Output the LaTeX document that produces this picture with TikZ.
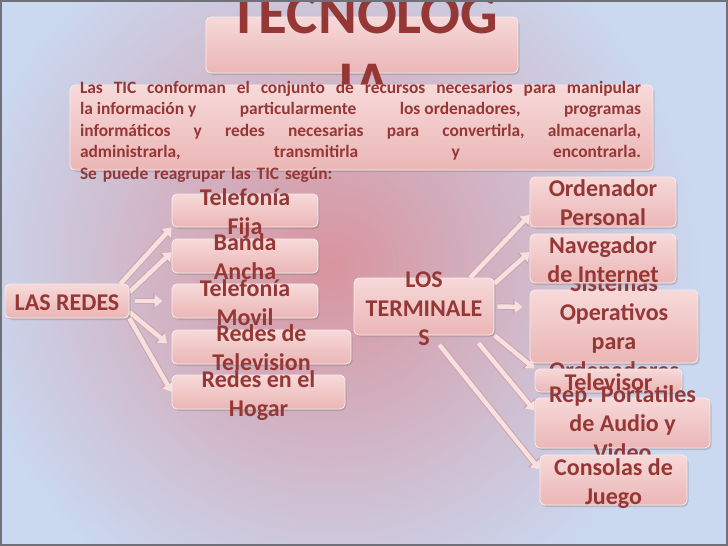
\documentclass[tikz,border=0pt]{standalone}
\usepackage{fontspec}
\setmainfont{Carlito}
\usetikzlibrary{arrows.meta,shadows}

\definecolor{txtred}{HTML}{953735}
\definecolor{boxtop}{HTML}{F7D9D9}
\definecolor{boxbot}{HTML}{EBB6B6}
\definecolor{boxline}{HTML}{FBECEC}
\definecolor{bgblue}{HTML}{CAD8F0}
\definecolor{bgred}{HTML}{D8949E}
\definecolor{arrfill}{HTML}{F6E0E0}
\definecolor{arredge}{HTML}{CFA3AA}
\definecolor{framegray}{HTML}{6E7278}

\pgfdeclarelayer{bg}
\pgfdeclarelayer{arr}
\pgfsetlayers{bg,arr,main}

\begin{document}
\begin{tikzpicture}[x=1pt,y=1pt,
  tbox/.style={rectangle, rounded corners=5pt, inner sep=0pt, top color=boxtop, bottom color=boxbot,
    draw=boxline, line width=0.8pt, drop shadow={shadow xshift=1.5pt, shadow yshift=-2pt, opacity=0.35}},
  tlabel/.style={text=txtred, font=\bfseries\fontsize{24}{29}\selectfont, align=center, inner sep=0pt},
  ttitle/.style={text=txtred, font=\bfseries\fontsize{59}{69}\selectfont, align=center, inner sep=0pt},
  tdesc/.style={text=txtred, font=\bfseries\fontsize{17.4}{21.5}\selectfont, text width=561pt, align=left, inner sep=0pt},
  blk/.style={-{Triangle[length=8pt,width=12pt]}, line width=4.5pt, draw=arrfill,
    preaction={draw=arredge, line width=6.5pt, -{Triangle[length=9.5pt,width=15pt]}}}]
\useasboundingbox (0,0) rectangle (728,-546);
\begin{pgfonlayer}{bg}
\fill[bgblue] (0,0) rectangle (728,-546);
\begin{scope}
\clip (0,0) rectangle (728,-546);
\shade[inner color=bgred, outer color=bgblue] (330,-265) circle (370);
\end{scope}
\end{pgfonlayer}

\node[tbox, minimum width=312, minimum height=56] (title) at (362,-45) {};
\node[ttitle] (titleT) at (364,-48.5) {TECNOLOG\\IA};
\node[tbox, minimum width=583, minimum height=85] (desc) at (361.5,-127.5) {};
\node[tdesc] (descT) at (360.5,-131.5) {%
\makebox[561pt]{Las\hfill TIC\hfill conforman\hfill el\hfill conjunto\hfill de\hfill recursos\hfill necesarios\hfill para\hfill manipular}\\
\makebox[561pt]{la\kern.23em información\kern.23em y\hfill particularmente\hfill los\kern.23em ordenadores,\hfill programas}\\
\makebox[561pt]{informáticos\hfill y\hfill redes\hfill necesarias\hfill para\hfill convertirla,\hfill almacenarla,}\\
\makebox[561pt]{administrarla,\hfill transmitirla\hfill y\hfill encontrarla.}\\
Se puede reagrupar las TIC según:};

\node[tbox, minimum width=124, minimum height=34] (redes) at (67,-301) {};
\node[tlabel] (redesT) at (67,-302.3) {LAS REDES};
\node[tbox, minimum width=146, minimum height=33] (fija) at (245,-210.5) {};
\node[tlabel] (fijaT) at (245,-214) {Telefonía\\Fija};
\node[tbox, minimum width=146, minimum height=34] (banda) at (245,-256) {};
\node[tlabel] (bandaT) at (245,-256.5) {Banda\\Ancha};
\node[tbox, minimum width=146, minimum height=34] (movil) at (245,-301) {};
\node[tlabel] (movilT) at (245,-302.6) {Telefonía\\Movil};
\node[tbox, minimum width=179, minimum height=34] (telev) at (261.5,-347) {};
\node[tlabel] (televT) at (261.5,-347.6) {Redes de\\Television};
\node[tbox, minimum width=173, minimum height=34] (hogar) at (258.5,-392) {};
\node[tlabel] (hogarT) at (258.5,-396) {Redes en el\\Hogar};

\node[tbox, minimum width=140, minimum height=57] (termin) at (424,-306.5) {};
\node[tlabel] (terminT) at (424,-308.6) {LOS\\TERMINALE\\S};
\node[tbox, minimum width=168, minimum height=73] (sisop) at (614,-326.5) {};
\node[tlabel] (sisopT) at (614,-327) {Sistemas\\Operativos\\para\\Ordenadores};
\node[tbox, minimum width=146, minimum height=50] (ordena) at (603,-202) {};
\node[tlabel] (ordenaT) at (603,-202.9) {Ordenador\\Personal};
\node[tbox, minimum width=146, minimum height=49] (naveg) at (603,-258.5) {};
\node[tlabel] (navegT) at (603,-259.6) {Navegador\\de Internet};
\node[tbox, minimum width=147, minimum height=23] (televi) at (608.5,-380.5) {};
\node[tlabel] (televiT) at (608.5,-381.8) {Televisor};
\node[tbox, minimum width=175, minimum height=50] (repaud) at (622.5,-423) {};
\node[tlabel] (repaudT) at (622.5,-423.4) {Rep. Portatiles\\de Audio y\\Video};
\node[tbox, minimum width=147, minimum height=50] (consol) at (613.5,-480) {};
\node[tlabel] (consolT) at (613.5,-483.8) {Consolas de\\Juego};

\begin{pgfonlayer}{arr}
\draw[blk] (redes.18) -- (fija.south west);
\draw[blk] (redes.8) -- (banda.177);
\draw[blk, shorten <=6pt, shorten >=9pt] (redes.east) -- (movil.west);
\draw[blk, shorten >=6pt] (redes.-10) -- (telev.west);
\draw[blk] (redes.south east) -- (hogar.west);
\draw[blk] (termin.32) -- (ordena.190);
\draw[blk] (termin.18) -- (naveg.175);
\draw[blk, shorten <=3pt, shorten >=7pt] (termin.east) -- (sisop.167);
\draw[blk] (termin.south east) -- (televi.north west);
\draw[blk, shorten <=10pt] (termin.-31) -- (repaud.172);
\draw[blk, shorten <=12pt] (termin.-75) -- (consol.172);
\end{pgfonlayer}

\draw[framegray, line width=2pt] (1,-1) rectangle (727,-545);
\end{tikzpicture}
\end{document}
